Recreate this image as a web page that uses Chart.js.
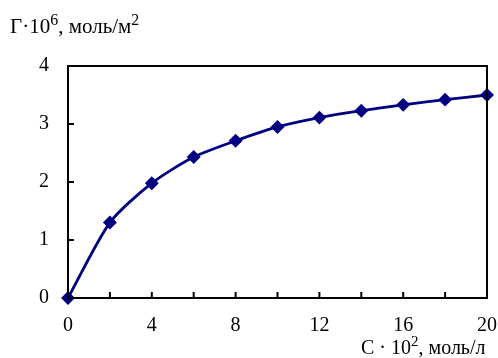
<!DOCTYPE html>
<html>
<head>
<meta charset="utf-8">
<script src="https://cdn.jsdelivr.net/npm/chart.js@4/dist/chart.umd.min.js"></script>
<style>
  html, body { margin: 0; padding: 0; background: #fff; }
  #wrap { width: 498px; height: 358px; }
</style>
</head>
<body>
<div id="wrap"><canvas id="adsChart" width="498" height="358"></canvas></div>
<script>
// Concentration (C·10^2, mol/l) and adsorption (Г·10^6, mol/m^2)
const concValues = [0, 2, 4, 6, 8, 10, 12, 14, 16, 18, 20];
const adsValues = [0, 1.30, 1.98, 2.43, 2.71, 2.95, 3.11, 3.23, 3.33, 3.42, 3.50];
const xTickLabels = [0, 4, 8, 12, 16, 20];
const yTickLabels = [0, 1, 2, 3, 4];

const FONT = "'Liberation Serif', 'Times New Roman', serif";

// draw text with a raised small part, e.g. 10^6
function drawRich(ctx, parts, x, y, size) {
    let cx = x;
    parts.forEach(p => {
        ctx.font = (p.sup ? Math.round(size * 0.75) : size) + 'px ' + FONT;
        ctx.fillText(p.t, cx, p.sup ? y - 8 : y);
        cx += ctx.measureText(p.t).width;
    });
}

// frame, inward tick marks and axis titles
const framePlugin = {
    id: 'frame',
    afterDatasetsDraw(chart) {
        const { ctx, chartArea: a, scales } = chart;
        ctx.save();
        ctx.strokeStyle = '#000';
        ctx.lineWidth = 2;
        ctx.strokeRect(a.left, a.top, a.right - a.left, a.bottom - a.top);
        ctx.beginPath();
        concValues.forEach(v => {
            const px = scales.x.getPixelForValue(v);
            ctx.moveTo(px, a.bottom);
            ctx.lineTo(px, a.bottom - 6);
        });
        yTickLabels.forEach(v => {
            const py = scales.y.getPixelForValue(v);
            ctx.moveTo(a.left, py);
            ctx.lineTo(a.left + 6, py);
        });
        ctx.stroke();
        ctx.restore();
    },
    afterDraw(chart) {
        const ctx = chart.ctx;
        ctx.save();
        ctx.fillStyle = '#000';
        ctx.textBaseline = 'alphabetic';
        ctx.textAlign = 'left';
        drawRich(ctx, [{ t: 'Г·10' }, { t: '6', sup: true }, { t: ', моль/м' }, { t: '2', sup: true }], 10, 33, 21);
        drawRich(ctx, [{ t: 'C · 10' }, { t: '2', sup: true }, { t: ', моль/л' }], 361, 354, 20);
        ctx.restore();
    }
};

new Chart(document.getElementById('adsChart'), {
    type: 'line',
    data: {
        datasets: [{
            data: concValues.map((c, i) => ({ x: c, y: adsValues[i] })),
            borderColor: '#000080',
            backgroundColor: '#000080',
            borderWidth: 2.8,
            tension: 0.25,
            pointStyle: 'rectRot',
            pointRadius: 5,
            pointHoverRadius: 5,
            clip: false
        }]
    },
    options: {
        responsive: false,
        animation: false,
        layout: { padding: { left: 0, right: 11, top: 66, bottom: 0 } },
        plugins: {
            legend: { display: false },
            tooltip: { enabled: false }
        },
        scales: {
            x: {
                type: 'linear',
                min: 0,
                max: 20,
                afterFit: scale => { scale.height = 60; scale.paddingLeft = 0; scale.paddingRight = 0; },
                afterBuildTicks: scale => { scale.ticks = xTickLabels.map(v => ({ value: v })); },
                grid: { display: false, drawTicks: false },
                border: { display: false },
                ticks: { color: '#000', padding: 16, maxRotation: 0, font: { family: FONT, size: 20 } }
            },
            y: {
                min: 0,
                max: 4,
                afterFit: scale => { scale.width = 68; scale.paddingTop = 0; scale.paddingBottom = 0; },
                afterBuildTicks: scale => { scale.ticks = yTickLabels.map(v => ({ value: v })); },
                grid: { display: false, drawTicks: false },
                border: { display: false },
                ticks: { color: '#000', padding: 19, font: { family: FONT, size: 20 } }
            }
        }
    },
    plugins: [framePlugin]
});
</script>
</body>
</html>
